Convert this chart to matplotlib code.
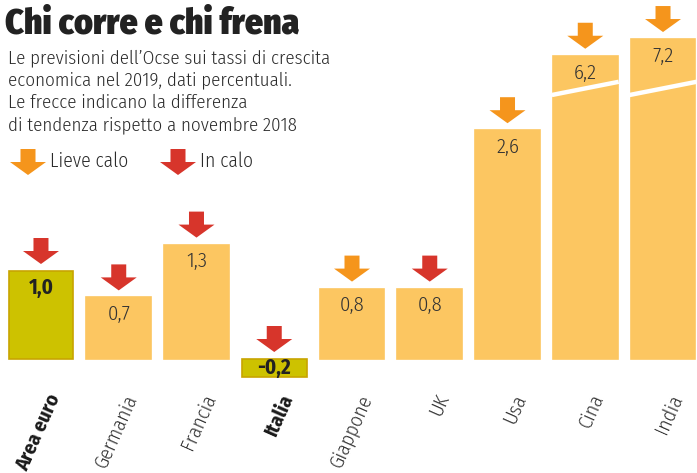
import matplotlib
matplotlib.use("Agg")
import matplotlib.pyplot as plt
from matplotlib.patches import Polygon
from matplotlib.transforms import Affine2D, ScaledTranslation
from matplotlib.font_manager import FontProperties

# ---- data ----
categories = ["Area euro", "Germania", "Francia", "Italia", "Giappone", "UK", "Usa", "Cina", "India"]
values = [1.0, 0.7, 1.3, -0.2, 0.8, 0.8, 2.6, 6.2, 7.2]
trend = ["In calo", "In calo", "In calo", "In calo", "Lieve calo", "In calo",
         "Lieve calo", "Lieve calo", "Lieve calo"]
highlight = ["Area euro", "Italia"]
value_labels = ["1,0", "0,7", "1,3", "-0,2", "0,8", "0,8", "2,6", "6,2", "7,2"]

title = "Chi corre e chi frena"
subtitle = ["Le previsioni dell\u2019Ocse sui tassi di crescita",
            "economica nel 2019, dati percentuali.",
            "Le frecce indicano la differenza",
            "di tendenza rispetto a novembre 2018"]
legend_items = ["Lieve calo", "In calo"]

# ---- style ----
BAR = "#fcc661"
HL = "#cdc200"
HL_EDGE = "#c8a400"
ARROW = {"Lieve calo": "#f5951c", "In calo": "#d7352b"}
TXT = "#333333"
FAM = "Fira Sans Condensed"
BREAK_AT, BREAK_K = 2.8, 0.19

def fp(weight, size, family=FAM):
    return FontProperties(family=family, stretch="condensed", weight=weight, size=size)

def disp(v):
    # axis break: values above BREAK_AT are compressed
    return v if v <= BREAK_AT else BREAK_AT + (v - BREAK_AT) * BREAK_K

W, H, DPI = 697, 473, 100
fig = plt.figure(figsize=(W / DPI, H / DPI), dpi=DPI)
fig.patch.set_facecolor("white")
ax = fig.add_axes([0, 0, 1, 1])
ax.axis("off")
PXU = 88.0
ax.set_ylim(-114 / PXU, 359 / PXU)
ax.set_xlim(-0.527, 8.437)

x = list(range(len(categories)))
heights = [disp(v) for v in values]
colors = [HL if c in highlight else BAR for c in categories]
edges = [HL_EDGE if c in highlight else BAR for c in categories]
ax.bar(x, heights, width=0.83, color=colors, edgecolor=edges, linewidth=1.2)

def arrow_poly(gap=7):
    hw, sw, hh, tot = 18, 7.5, 13, 26
    return [(0, gap), (-hw, gap + hh), (-sw, gap + hh), (-sw, gap + tot),
            (sw, gap + tot), (sw, gap + hh), (hw, gap + hh)]

for xi, h, t in zip(x, heights, trend):
    top = max(h, 0)
    tr = Affine2D() + ScaledTranslation(xi, top, ax.transData)
    ax.add_patch(Polygon(arrow_poly(), closed=True, facecolor=ARROW[t],
                         edgecolor="none", transform=tr, clip_on=False))

# break lines on compressed bars
for xi, v in zip(x, values):
    if v > BREAK_AT:
        ax.plot([xi - 0.43, xi + 0.43], [3.0, 3.15], color="white", lw=3.2,
                solid_capstyle="butt")

# value labels
for xi, h, lab, c in zip(x, heights, value_labels, categories):
    bold = c in highlight
    y = h if h >= 0 else h / 2
    dy = -17 if h >= 0 else 0
    ax.annotate(lab, (xi, y), xytext=(0, dy), textcoords="offset pixels",
                ha="center", va="center", fontproperties=fp(700 if bold else 300, 15),
                color="#222222" if bold else TXT)

# category labels
for xi, c in zip(x, categories):
    bold = c in highlight
    ax.annotate(c, (xi, 0), xytext=(14, -36), textcoords="offset pixels",
                rotation=66, rotation_mode="anchor", ha="right", va="center",
                fontproperties=fp(700 if bold else 300, 14.5),
                color="#1a1a1a" if bold else "#333333")

# title & subtitle
fig.text(5 / W, 1 - 33 / H, title, fontproperties=fp(900, 25.5),
         color="#222222", va="baseline", ha="left")
for i, line in enumerate(subtitle):
    fig.text(8 / W, 1 - (63 + 22.3 * i) / H, line, fontproperties=fp(300, 13.6),
             color="#2a2a2a", va="baseline", ha="left")

# legend
leg_pos = [(28, 50), (178, 200)]
for (ax_px, tx_px), item in zip(leg_pos, legend_items):
    tr = Affine2D() + ScaledTranslation(ax_px / W, 1 - 182 / H, fig.transFigure)
    fig.patches.append(Polygon(arrow_poly(gap=7), closed=True, facecolor=ARROW[item],
                               edgecolor="none", transform=tr))
    fig.text(tx_px / W, 1 - 167 / H, item, fontproperties=fp(300, 14),
             color="#2a2a2a", va="baseline", ha="left")

fig.savefig("out.png", dpi=DPI, facecolor="white")
